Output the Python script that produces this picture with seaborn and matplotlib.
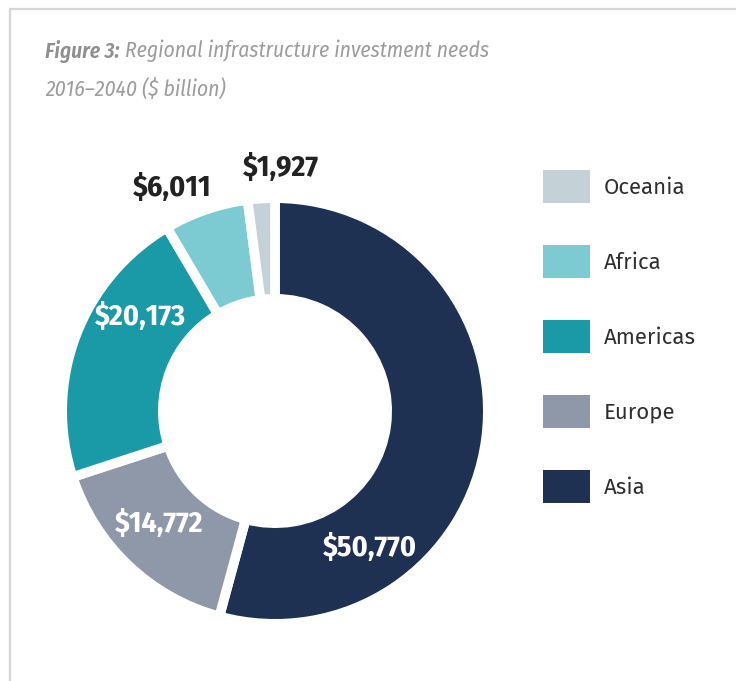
import numpy as np
import matplotlib
matplotlib.use("Agg")
import matplotlib.pyplot as plt
from matplotlib.patches import Patch
from matplotlib.lines import Line2D
import seaborn as sns

# Regional infrastructure investment needs, 2016-2040 ($ billion)
regions = ["Asia", "Europe", "Americas", "Africa", "Oceania"]
needs = [50770, 14772, 20173, 6011, 1927]
value_labels = ["$50,770", "$14,772", "$20,173", "$6,011", "$1,927"]
region_colors = ["#1f3152", "#8f98a8", "#1a9aa7", "#7ccbd2", "#c4d2d8"]
legend_order = ["Oceania", "Africa", "Americas", "Europe", "Asia"]

title_lead = "Figure 3:"
title_rest = " Regional infrastructure investment needs"
title_line2 = "2016\u20132040 ($ billion)"

sns.set_theme(style="white")
cond = ["Fira Sans Condensed", "DejaVu Sans"]
plain = ["Fira Sans", "DejaVu Sans"]
plt.rcParams["font.family"] = cond

palette = sns.color_palette(region_colors)
W, H = 736, 681
fig = plt.figure(figsize=(W / 100, H / 100), dpi=100)
fig.patch.set_facecolor("white")

# light frame along the top and left edge
frame = fig.add_axes([0, 0, 1, 1])
frame.set_xlim(0, W)
frame.set_ylim(H, 0)
frame.axis("off")
frame.add_line(Line2D([10, W], [9, 9], color="#d6d6d6", lw=1.6))
frame.add_line(Line2D([10, 10], [9, H], color="#d6d6d6", lw=1.6))

# title
tfs = 15.5
t1 = fig.text(45 / W, 1 - 40 / H, title_lead, family=cond, style="italic",
              weight="semibold", color="#8f8f8f", fontsize=tfs, va="top", ha="left")
fig.canvas.draw()
bb = t1.get_window_extent()
fig.text(bb.x1 / W, 1 - 40 / H, title_rest, family=cond, style="italic",
         weight="normal", color="#9c9c9c", fontsize=tfs, va="top", ha="left")
fig.text(45 / W, 1 - 78 / H, title_line2, family=cond, style="italic",
         weight="normal", color="#9c9c9c", fontsize=tfs, va="top", ha="left")

# donut
cx, cy, R = 275, 411, 208
ax = fig.add_axes([(cx - R) / W, (H - cy - R) / H, 2 * R / W, 2 * R / H])
ax.set_aspect("equal")
gap_pt = 7
gap_frac = gap_pt * 100 / 72 / (2 * R)   # half the edge line in radius units
inner = 117 / R
wedges, _ = ax.pie(needs, colors=palette, startangle=90, counterclock=False,
                   radius=1 + gap_frac,
                   wedgeprops=dict(width=1 + gap_frac - inner + gap_frac,
                                   edgecolor="white", linewidth=gap_pt))
ax.set_xlim(-1, 1)
ax.set_ylim(-1, 1)
ax.axis("off")

# value labels: position along each wedge's span and distance from centre
label_layout = {
    "Asia": (0.745, 0.80, "white"),
    "Europe": (0.54, 0.78, "white"),
    "Americas": (0.685, 0.79, "white"),
    "Africa": (0.25, 1.18, "#222222"),
    "Oceania": (1.19, 1.17, "#222222"),
}
for w, name, txt in zip(wedges, regions, value_labels):
    along, dist, col = label_layout[name]
    # clockwise wedges: theta2 is the start, theta1 the end
    ang = np.deg2rad(w.theta2 - along * (w.theta2 - w.theta1))
    ax.text(dist * np.cos(ang), dist * np.sin(ang), txt, ha="center", va="center",
            family=cond, weight="bold", fontsize=21.5, color=col)

# legend
color_of = dict(zip(regions, palette))
handles = [Patch(facecolor=color_of[r], edgecolor="none", label=r) for r in legend_order]
fs = 16
fs_px = fs * 100 / 72
box_h = 33
hh = (box_h / fs_px - 0.245) / 0.65   # matplotlib trims the handle box by a descent
fig.legend(handles=handles, loc="upper left",
           bbox_to_anchor=(543 / W, 1 - 170 / H), frameon=False,
           prop={"family": plain, "size": fs}, handlelength=47 / fs_px, handleheight=hh,
           labelspacing=(75 - box_h) / fs_px, handletextpad=14 / fs_px,
           borderpad=0, borderaxespad=0, labelcolor="#2e2e2e")

fig.savefig("out.png", dpi=100, facecolor="white")
